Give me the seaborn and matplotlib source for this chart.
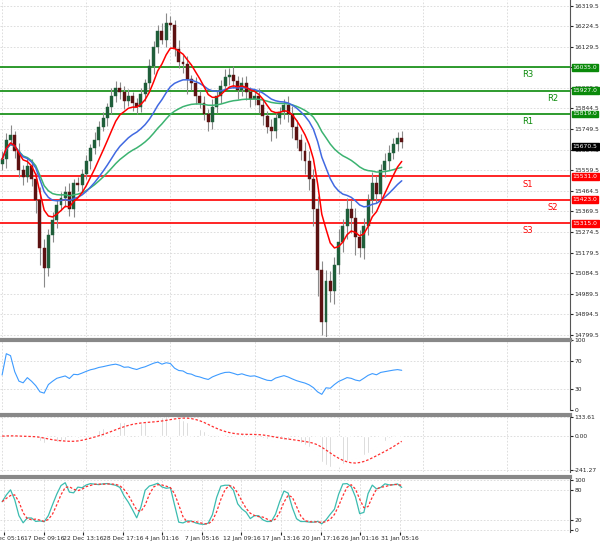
import numpy as np
import pandas as pd
import matplotlib
matplotlib.use("Agg")
import matplotlib.pyplot as plt
import seaborn as sns

# price data (close per bar)
closes = [15610, 15700, 15720, 15650, 15560, 15530, 15580, 15520, 15420, 15200,
          15110, 15260, 15330, 15400, 15430, 15460, 15380, 15500, 15490, 15540,
          15600, 15660, 15700, 15760, 15800, 15850, 15900, 15940, 15920, 15880,
          15900, 15870, 15850, 15910, 15960, 16040, 16130, 16200, 16160, 16240,
          16230, 16120, 16060, 16050, 15980, 15960, 15900, 15870, 15820, 15780,
          15850, 15900, 15950, 15990, 16000, 15970, 15930, 15960, 15920, 15890,
          15900, 15860, 15810, 15760, 15740, 15800, 15830, 15860, 15820, 15760,
          15700, 15650, 15600, 15520, 15380, 15100, 14860, 15050, 15000, 15120,
          15230, 15300, 15380, 15340, 15250, 15200, 15300, 15420, 15500, 15450,
          15560, 15600, 15640, 15680, 15710, 15690]
wick_up = [40, 30, 50, 20, 35, 25, 40, 30, 25, 60,
           40, 30, 35, 20, 30, 25, 40, 20, 30, 25,
           30, 20, 35, 25, 30, 20, 40, 30, 25, 30,
           35, 20, 25, 30, 20, 35, 25, 30, 40, 45,
           30, 25, 40, 30, 35, 20, 30, 25, 30, 20,
           40, 30, 25, 35, 30, 40, 25, 30, 35, 25,
           30, 40, 30, 25, 35, 30, 20, 30, 40, 35,
           30, 25, 40, 50, 45, 60, 40, 50, 45, 40,
           60, 35, 50, 40, 45, 35, 40, 30, 50, 35,
           30, 40, 35, 30, 25, 30]
wick_dn = [30, 40, 25, 35, 30, 40, 25, 35, 60, 80,
           90, 40, 30, 35, 25, 40, 30, 35, 25, 30,
           20, 35, 25, 30, 20, 35, 30, 25, 30, 40,
           25, 35, 30, 20, 30, 25, 35, 30, 20, 30,
           25, 35, 30, 40, 70, 30, 35, 25, 30, 40,
           30, 25, 30, 20, 35, 30, 40, 30, 35, 40,
           30, 35, 40, 30, 45, 30, 25, 35, 40, 50,
           40, 45, 60, 50, 80, 120, 60, 90, 50, 60,
           40, 50, 60, 70, 80, 40, 50, 40, 60, 40,
           35, 30, 40, 30, 30, 30]

levels = [16035.0, 15927.0, 15819.0, 15531.0, 15423.0, 15315.0]
level_names = ["R3", "R2", "R1", "S1", "S2", "S3"]
level_colors = ["#0a8a0a"] * 3 + ["#ff0000"] * 3
price_ticks = [16319.5, 16224.5, 16129.5, 16034.5, 15939.5, 15844.5, 15749.5, 15654.5,
               15559.5, 15464.5, 15369.5, 15274.5, 15179.5, 15084.5, 14989.5, 14894.5, 14799.5]
last_price = 15670.5
date_labels = ["16 Dec 05:16", "17 Dec 09:16", "22 Dec 13:16", "28 Dec 17:16", "4 Jan 01:16",
               "7 Jan 05:16", "12 Jan 09:16", "17 Jan 13:16", "20 Jan 17:16",
               "26 Jan 01:16", "31 Jan 05:16"]
macd_ticks = [133.61, 0.0, -241.27]

sns.set_style("white")
plt.rcParams["font.family"] = ["DejaVu Sans"]

df = pd.DataFrame({"close": closes})
df["open"] = df["close"].shift(1).fillna(df["close"].iloc[0] - 20)
df["high"] = df[["open", "close"]].max(axis=1) + np.array(wick_up)
df["low"] = df[["open", "close"]].min(axis=1) - np.array(wick_dn)
n = len(df)
x = np.arange(n)

ma_fast = df["close"].ewm(span=8).mean()
ma_mid = df["close"].ewm(span=22).mean()
ma_slow = df["close"].ewm(span=50).mean()

# indicators derived from the prices
delta = df["close"].diff().fillna(0)
gain = delta.clip(lower=0).ewm(alpha=1 / 14).mean() + 15
loss = (-delta.clip(upper=0)).ewm(alpha=1 / 14).mean() + 15
rsi = 100 - 100 / (1 + gain / loss)
macd = df["close"].ewm(span=12).mean() - df["close"].ewm(span=26).mean()
signal = macd.rolling(9, min_periods=1).mean()
hh = df["high"].rolling(5, min_periods=1).max()
ll = df["low"].rolling(5, min_periods=1).min()
stoch_k = (100 * (df["close"] - ll) / (hh - ll)).rolling(2, min_periods=1).mean()
stoch_d = stoch_k.rolling(3, min_periods=1).mean()

fig = plt.figure(figsize=(6, 5.49), dpi=100)
W = 570 / 600
ax = fig.add_axes([0, 1 - 337 / 549, W, 337 / 549])
ax_rsi = fig.add_axes([0, 1 - 410 / 549, W, 70 / 549])
ax_macd = fig.add_axes([0, 1 - 472 / 549, W, 57 / 549])
ax_sto = fig.add_axes([0, 1 - 532 / 549, W, 55 / 549])
xlim = (-0.5, 135)
lab_fs = 4.3

for a in (ax, ax_rsi, ax_macd, ax_sto):
    a.set_xlim(*xlim)
    a.yaxis.tick_right()
    a.tick_params(axis="y", labelsize=lab_fs, length=2, pad=1)
    a.tick_params(axis="x", bottom=False, labelbottom=False)
    a.grid(True, color="#d8d8d8", linestyle=(0, (2, 2)), linewidth=0.6)
    a.spines["left"].set_visible(False)
    a.spines["right"].set_color("#555555")
    a.spines["bottom"].set_visible(False)
for a in (ax_rsi, ax_macd, ax_sto):
    a.spines["top"].set_color("#888888")
    a.spines["top"].set_linewidth(3)
ax.spines["top"].set_visible(False)

# candles
up = df["close"] >= df["open"]
ax.vlines(x, df["low"], df["high"], color="#8a8a8a", linewidth=0.8, zorder=2)
ax.bar(x[up], (df["close"] - df["open"])[up], bottom=df["open"][up], width=0.7,
       color="#1f5e3a", edgecolor="#1f5e3a", linewidth=0.3, zorder=3)
ax.bar(x[~up], (df["open"] - df["close"])[~up], bottom=df["close"][~up], width=0.7,
       color="#5c1212", edgecolor="#5c1212", linewidth=0.3, zorder=3)
ax.plot(x, ma_slow, color="#3cb371", linewidth=1.1, zorder=4)
ax.plot(x, ma_mid, color="#4169e1", linewidth=1.1, zorder=4)
ax.plot(x, ma_fast, color="#ff0000", linewidth=1.1, zorder=4)

label_x = [125, 131, 125, 125, 131, 125]
for lv, nm, c, lx in zip(levels, level_names, level_colors, label_x):
    ax.axhline(lv, color=c, linewidth=1.2, zorder=1)
    ax.text(lx, lv - 15, nm, color=c, fontsize=6, ha="center", va="top")
    ax.annotate(f"{lv:.1f}", xy=(1, lv), xycoords=("axes fraction", "data"),
                xytext=(2, 0), textcoords="offset points", fontsize=lab_fs, va="center",
                color="white", bbox=dict(boxstyle="square,pad=0.15", fc=c, ec=c))
ax.annotate(f"{last_price:.1f}", xy=(1, last_price), xycoords=("axes fraction", "data"),
            xytext=(2, 0), textcoords="offset points", fontsize=lab_fs, va="center",
            color="white", bbox=dict(boxstyle="square,pad=0.15", fc="black", ec="black"))
ax.set_ylim(14790, 16345)
ax.set_yticks(price_ticks)
ax.set_yticklabels([f"{t:.1f}" for t in price_ticks])

# RSI
ax_rsi.plot(x, rsi, color="#3d9bff", linewidth=0.8)
ax_rsi.set_ylim(0, 100)
ax_rsi.set_yticks([0, 30, 70, 100])

# MACD
ax_macd.bar(x, macd, width=0.35, color="#c8c8c8")
ax_macd.plot(x, signal, color="#ff3030", linestyle=(0, (2, 1.5)), linewidth=0.9)
ax_macd.set_ylim(-255, 150)
ax_macd.set_yticks(macd_ticks)
ax_macd.set_yticklabels([f"{t:.2f}" for t in macd_ticks])

# Stochastic
ax_sto.plot(x, stoch_k, color="#3cbcb0", linewidth=0.9)
ax_sto.plot(x, stoch_d, color="#ff3030", linestyle=(0, (2, 1.5)), linewidth=0.9)
ax_sto.set_ylim(-5, 105)
ax_sto.set_yticks([0, 20, 80, 100])

ax_sto.tick_params(axis="x", bottom=True, labelbottom=True, labelsize=lab_fs, length=2, pad=1)
ax_sto.set_xticks([0.5 + 9.4 * i for i in range(len(date_labels))])
ax_sto.set_xticklabels(date_labels)

fig.savefig("out.png", dpi=100)
